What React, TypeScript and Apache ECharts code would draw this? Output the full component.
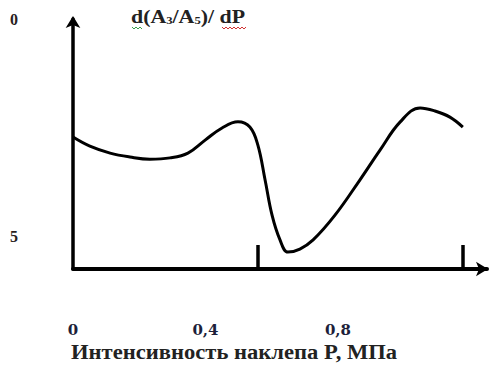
import React, { useEffect, useRef } from "react";
import * as echarts from "echarts";

// Curve: intensity P (MPa) vs d(A3/A5)/dP (axis reads 0 at top, 5 at bottom)
const pValues = [0, 0.051, 0.112, 0.172, 0.232, 0.293, 0.347, 0.399, 0.45, 0.498, 0.534, 0.558, 0.58, 0.601, 0.625, 0.649, 0.685, 0.725, 0.791, 0.866, 0.927, 0.988, 1.048, 1.093, 1.138, 1.177];
const dValues = [2.72, 2.93, 3.09, 3.18, 3.23, 3.2, 3.09, 2.79, 2.51, 2.37, 2.49, 2.9, 3.71, 4.52, 5.09, 5.37, 5.3, 5.09, 4.52, 3.71, 3.02, 2.37, 2.05, 2.12, 2.26, 2.49];
const xLabelValues = [0, 0.4, 0.8];
const xTickValues = [0.558, 1.177];
const yLabelValues = [0, 5];
const xAxisTitle = "Интенсивность наклепа P, МПа";

const FONT = "'Liberation Serif', 'DejaVu Serif', serif";
const WIDE = "'DejaVu Serif', serif";

function squiggle(x0: number, x1: number, y: number) {
  const pts: number[][] = [];
  let up = true;
  for (let x = x0; x <= x1; x += 2) {
    pts.push([x, up ? y : y + 2]);
    up = !up;
  }
  return pts;
}

export default function App() {
  const ref = useRef<HTMLDivElement>(null);
  useEffect(() => {
    document.body.style.margin = "0";
    const chart = echarts.init(ref.current!, null, { renderer: "svg" });
    const data = pValues.map((p, i) => [p, dValues[i]]);
    chart.setOption({
      animation: false,
      backgroundColor: "#ffffff",
      grid: { left: 73, top: 19, width: 414, height: 250, containLabel: false },
      xAxis: {
        type: "value",
        min: 0,
        max: 1.25,
        splitLine: { show: false },
        axisLine: {
          show: true,
          onZero: false,
          symbol: ["none", "arrow"],
          symbolSize: [11, 12],
          symbolOffset: [0, 1],
          lineStyle: { color: "#000", width: 4 },
        },
        axisTick: {
          show: true,
          inside: true,
          length: 24,
          customValues: xTickValues,
          lineStyle: { color: "#000", width: 3.5 },
        },
        axisLabel: {
          show: true,
          customValues: xLabelValues,
          margin: 53,
          fontFamily: WIDE,
          fontWeight: "bold",
          fontSize: 15,
          color: "#1d1f3a",
          formatter: (v: number) => String(v).replace(".", ","),
        },
      },
      yAxis: {
        type: "value",
        inverse: true,
        min: 0,
        max: 5.76,
        splitLine: { show: false },
        axisLine: {
          show: true,
          onZero: false,
          symbol: ["none", "arrow"],
          symbolSize: [11, 12],
          symbolOffset: [0, 3],
          lineStyle: { color: "#000", width: 3.5 },
        },
        axisTick: { show: false },
        axisLabel: {
          show: true,
          customValues: yLabelValues,
          margin: 55,
          fontFamily: FONT,
          fontWeight: "bold",
          fontSize: 16,
          color: "#2a1e1e",
        },
      },
      graphic: [
        {
          type: "text",
          x: 131,
          y: 6,
          scaleX: 1.15,
          style: {
            text: "d(A{s|3}/A{s|5})/ dP",
            fontFamily: FONT,
            fontWeight: "bold",
            fontSize: 19,
            fill: "#222",
            verticalAlign: "top",
            rich: {
              s: { fontFamily: FONT, fontWeight: "bold", fontSize: 11, fill: "#222", verticalAlign: "bottom", padding: [9, 0, 0, 0] },
            },
          },
        },
        {
          type: "polyline",
          shape: { points: squiggle(132, 142, 27) },
          style: { stroke: "#3aa04a", lineWidth: 1, fill: null },
        },
        {
          type: "polyline",
          shape: { points: squiggle(222, 246, 27) },
          style: { stroke: "#d03030", lineWidth: 1, fill: null },
        },
        {
          type: "text",
          x: 71,
          y: 342,
          scaleX: 1.13,
          style: {
            text: xAxisTitle,
            fontFamily: FONT,
            fontWeight: "bold",
            fontSize: 20,
            fill: "#222",
            verticalAlign: "top",
          },
        },
      ],
      series: [
        {
          type: "line",
          data,
          smooth: 0.4,
          showSymbol: false,
          lineStyle: { color: "#000", width: 3 },
        },
      ],
    });
    return () => chart.dispose();
  }, []);
  return <div ref={ref} style={{ width: 494, height: 370 }} />;
}
